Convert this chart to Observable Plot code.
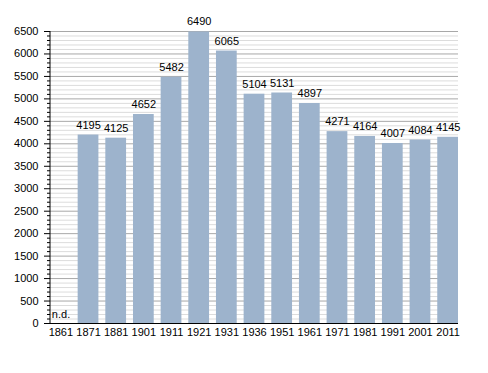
<!DOCTYPE html>
<html>
<head>
<meta charset="utf-8">
<script src="https://cdn.jsdelivr.net/npm/d3@7"></script>
<script src="https://cdn.jsdelivr.net/npm/@observablehq/plot@0.6"></script>
<style>
  html, body { margin: 0; padding: 0; background: #fff; }
</style>
</head>
<body>
<div id="chart"></div>
<script>
const years = ["1861","1871","1881","1901","1911","1921","1931","1936","1951","1961","1971","1981","1991","2001","2011"];
const population = [null, 4195, 4125, 4652, 5482, 6490, 6065, 5104, 5131, 4897, 4271, 4164, 4007, 4084, 4145];
const majorTicks = d3.range(0, 6501, 500);
const minorTicks = d3.range(0, 6501, 100).filter(v => v % 500 !== 0);
const noDataLabel = "n.d.";

const data = years.map((year, i) => ({year, value: population[i]}));
const barData = data.filter(d => d.value != null);
const missing = data.filter(d => d.value == null);

const plot = Plot.plot({
  width: 488,
  height: 373,
  marginTop: 31,
  marginBottom: 50,
  marginLeft: 50,
  marginRight: 30,
  style: {fontFamily: "'Liberation Sans', Arial, sans-serif", fontSize: "11px", color: "#000", background: "#fff"},
  x: {type: "band", domain: years, paddingInner: 0.25, paddingOuter: 0, align: 0.5, round: false, label: null},
  y: {domain: [0, 6500], label: null},
  marks: [
    Plot.gridY(minorTicks, {stroke: "#dcdcdc", strokeOpacity: 1}),
    Plot.gridY(majorTicks, {stroke: "#a8a8a8", strokeOpacity: 1}),
    Plot.barY(barData, {x: "year", y: "value", fill: "#9db3cc"}),
    Plot.text(barData, {x: "year", y: "value", text: d => String(d.value), dy: -10, fontSize: 11, fill: "#000"}),
    Plot.text(missing, {x: "year", y: () => 0, text: () => noDataLabel, textAnchor: "start", dx: -9, dy: -9, fontSize: 11, fill: "#000"}),
    Plot.axisY(minorTicks, {tickSize: 3, tickFormat: () => "", stroke: "#000"}),
    Plot.axisY(majorTicks, {tickSize: 6, tickPadding: 6, tickFormat: d => String(d), stroke: "#000", fontSize: 11}),
    Plot.axisX({tickSize: 0, tickPadding: 5, fontSize: 11}),
    Plot.ruleY([0], {stroke: "#000"})
  ]
});

// left axis line drawn from the scales
const ys = plot.scale("y");
const xs = plot.scale("x");
const xLeft = xs.range[0];
d3.select(plot).append("line")
  .attr("x1", xLeft).attr("x2", xLeft)
  .attr("y1", ys.apply(6500)).attr("y2", ys.apply(0))
  .attr("stroke", "#000");

document.getElementById("chart").appendChild(plot);
</script>
</body>
</html>
